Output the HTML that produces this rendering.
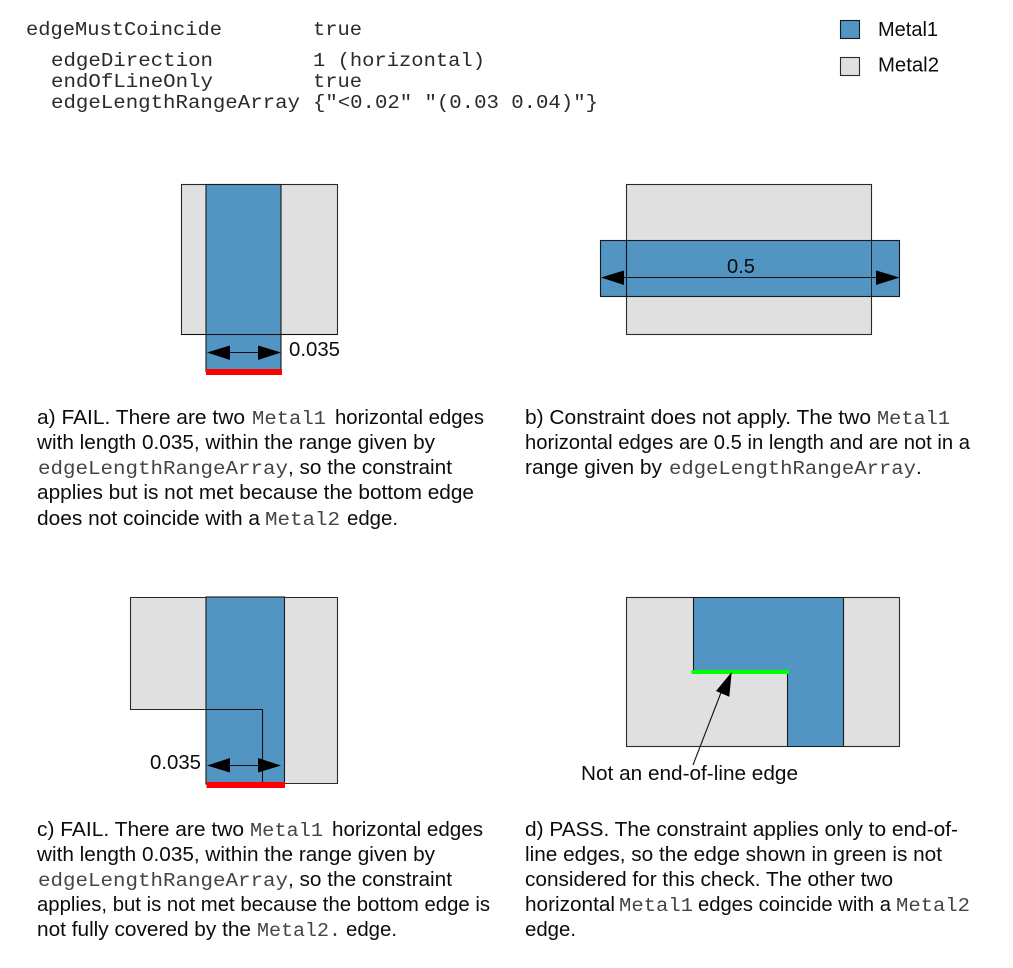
<!DOCTYPE html>
<html><head><meta charset="utf-8"><style>
html,body{margin:0;padding:0;background:#fff;width:1013px;height:968px;overflow:hidden}
svg{display:block}
.s{font-family:"Liberation Sans",sans-serif;font-size:20.7px;fill:#0c0c0c}
.m{font-family:"Liberation Mono",monospace;font-size:19.6px;fill:#444}
.c{font-family:"Liberation Mono",monospace;font-size:19.6px;fill:#2a2a2a}
.b{fill:#5294c2;stroke:#1a1a1a;stroke-width:1.1}
.g{fill:#e0e0e0;stroke:#2a2a2a;stroke-width:1.1}
.l{stroke:#111;stroke-width:1.1;fill:none}
</style></head><body>
<svg width="1013" height="968" viewBox="0 0 1013 968" xmlns="http://www.w3.org/2000/svg" shape-rendering="geometricPrecision">
<text class="c" x="26" y="35" textLength="196" lengthAdjust="spacingAndGlyphs">edgeMustCoincide</text>
<text class="c" x="313" y="35" textLength="49" lengthAdjust="spacingAndGlyphs">true</text>
<text class="c" x="51" y="66" textLength="162" lengthAdjust="spacingAndGlyphs">edgeDirection</text>
<text class="c" x="313" y="66" textLength="172" lengthAdjust="spacingAndGlyphs">1 (horizontal)</text>
<text class="c" x="51" y="87" textLength="162" lengthAdjust="spacingAndGlyphs">endOfLineOnly</text>
<text class="c" x="313" y="87" textLength="49" lengthAdjust="spacingAndGlyphs">true</text>
<text class="c" x="51" y="108" textLength="249" lengthAdjust="spacingAndGlyphs">edgeLengthRangeArray</text>
<text class="c" x="313" y="108" textLength="285" lengthAdjust="spacingAndGlyphs">{"&lt;0.02" "(0.03 0.04)"}</text>

<rect class="b" x="840.5" y="20.5" width="19" height="18"/>
<rect class="g" x="840.5" y="57.5" width="19" height="18"/>
<text class="s" x="878" y="36" textLength="60" lengthAdjust="spacingAndGlyphs">Metal1</text>
<text class="s" x="878" y="71.5" textLength="61" lengthAdjust="spacingAndGlyphs">Metal2</text>

<!-- a -->
<rect class="g" x="181.5" y="184.5" width="156" height="150"/>
<rect class="b" x="206" y="184.5" width="75" height="187"/>
<line class="l" x1="181" y1="334.5" x2="337" y2="334.5"/>
<rect x="206" y="369" width="76" height="6" fill="#f00"/>
<line class="l" x1="225" y1="352.5" x2="262" y2="352.5"/>
<polygon points="207,352.5 230,345.5 230,360" fill="#000"/>
<polygon points="281,352.5 258,345.5 258,360" fill="#000"/>
<text class="s" x="289" y="356" textLength="51" lengthAdjust="spacingAndGlyphs">0.035</text>

<!-- b -->
<rect class="g" x="626.5" y="184.5" width="245" height="150"/>
<rect class="b" x="600.5" y="240.5" width="299" height="56"/>
<line class="l" x1="626.5" y1="240" x2="626.5" y2="297"/>
<line x1="871.5" y1="240" x2="871.5" y2="297" stroke="#222" stroke-width="1"/>
<line class="l" x1="620" y1="277.5" x2="880" y2="277.5"/>
<polygon points="601,277.5 624,270.5 624,285" fill="#000"/>
<polygon points="899.5,277.5 876,270.5 876,285" fill="#000"/>
<text class="s" x="727" y="273" textLength="28" lengthAdjust="spacingAndGlyphs">0.5</text>

<!-- c -->
<path class="g" d="M130.5 597.5H337.5V783.5H262.5V709.5H130.5Z"/>
<rect class="b" x="206" y="597" width="78.5" height="187"/>
<path class="l" d="M206 709.5H262.5V783"/>
<rect x="206.5" y="782" width="78.5" height="6" fill="#f00"/>
<line class="l" x1="225" y1="765.5" x2="265" y2="765.5"/>
<polygon points="207,765.5 230,758 230,772.5" fill="#000"/>
<polygon points="281,765.5 258,758 258,772.5" fill="#000"/>
<text class="s" x="150" y="769" textLength="51" lengthAdjust="spacingAndGlyphs">0.035</text>

<!-- d -->
<rect class="g" x="626.5" y="597.5" width="273" height="149"/>
<path class="b" d="M693.5 597.5H843.5V746.5H787.5V671.5H693.5Z"/>
<rect x="691.5" y="670" width="97.5" height="4" fill="#0f0"/>
<line class="l" x1="693" y1="765" x2="722" y2="690"/>
<polygon points="731.7,672 716,691 729.3,696.7" fill="#000"/>
<text class="s" x="581" y="780" textLength="217" lengthAdjust="spacingAndGlyphs">Not an end-of-line edge</text>

<g transform="translate(0,1)">
<!-- captions a -->
<text class="s" x="37" y="423" textLength="208" lengthAdjust="spacingAndGlyphs">a) FAIL. There are two</text>
<text class="m" x="252" y="423" textLength="74" lengthAdjust="spacingAndGlyphs">Metal1</text>
<text class="s" x="335" y="423" textLength="149" lengthAdjust="spacingAndGlyphs">horizontal edges</text>
<text class="s" x="37" y="448" textLength="398" lengthAdjust="spacingAndGlyphs">with length 0.035, within the range given by</text>
<text class="m" x="38" y="473" textLength="250" lengthAdjust="spacingAndGlyphs">edgeLengthRangeArray</text>
<text class="s" x="288" y="473" textLength="164" lengthAdjust="spacingAndGlyphs">, so the constraint</text>
<text class="s" x="37" y="498" textLength="437" lengthAdjust="spacingAndGlyphs">applies but is not met because the bottom edge</text>
<text class="s" x="37" y="524" textLength="223" lengthAdjust="spacingAndGlyphs">does not coincide with a</text>
<text class="m" x="265" y="524" textLength="75" lengthAdjust="spacingAndGlyphs">Metal2</text>
<text class="s" x="347" y="524" textLength="51" lengthAdjust="spacingAndGlyphs">edge.</text>

<!-- captions b -->
<text class="s" x="525" y="423" textLength="346" lengthAdjust="spacingAndGlyphs">b) Constraint does not apply. The two</text>
<text class="m" x="877" y="423" textLength="73" lengthAdjust="spacingAndGlyphs">Metal1</text>
<text class="s" x="525" y="448" textLength="445" lengthAdjust="spacingAndGlyphs">horizontal edges are 0.5 in length and are not in a</text>
<text class="s" x="525" y="473" textLength="137" lengthAdjust="spacingAndGlyphs">range given by</text>
<text class="m" x="669" y="473" textLength="247" lengthAdjust="spacingAndGlyphs">edgeLengthRangeArray</text>
<text class="s" x="916" y="473">.</text>

<!-- captions c -->
<text class="s" x="37" y="835" textLength="207" lengthAdjust="spacingAndGlyphs">c) FAIL. There are two</text>
<text class="m" x="250" y="835" textLength="73" lengthAdjust="spacingAndGlyphs">Metal1</text>
<text class="s" x="332" y="835" textLength="151" lengthAdjust="spacingAndGlyphs">horizontal edges</text>
<text class="s" x="37" y="860" textLength="398" lengthAdjust="spacingAndGlyphs">with length 0.035, within the range given by</text>
<text class="m" x="38" y="885" textLength="250" lengthAdjust="spacingAndGlyphs">edgeLengthRangeArray</text>
<text class="s" x="288" y="885" textLength="164" lengthAdjust="spacingAndGlyphs">, so the constraint</text>
<text class="s" x="37" y="910" textLength="453" lengthAdjust="spacingAndGlyphs">applies, but is not met because the bottom edge is</text>
<text class="s" x="37" y="935" textLength="214" lengthAdjust="spacingAndGlyphs">not fully covered by the</text>
<text class="m" x="257" y="935" textLength="84" lengthAdjust="spacingAndGlyphs">Metal2.</text>
<text class="s" x="346" y="935" textLength="51" lengthAdjust="spacingAndGlyphs">edge.</text>

<!-- captions d -->
<text class="s" x="525" y="835" textLength="433" lengthAdjust="spacingAndGlyphs">d) PASS. The constraint applies only to end-of-</text>
<text class="s" x="525" y="860" textLength="417" lengthAdjust="spacingAndGlyphs">line edges, so the edge shown in green is not</text>
<text class="s" x="525" y="885" textLength="368" lengthAdjust="spacingAndGlyphs">considered for this check. The other two</text>
<text class="s" x="525" y="910" textLength="90" lengthAdjust="spacingAndGlyphs">horizontal</text>
<text class="m" x="619" y="910" textLength="74" lengthAdjust="spacingAndGlyphs">Metal1</text>
<text class="s" x="698" y="910" textLength="193" lengthAdjust="spacingAndGlyphs">edges coincide with a</text>
<text class="m" x="896" y="910" textLength="74" lengthAdjust="spacingAndGlyphs">Metal2</text>
<text class="s" x="525" y="935" textLength="51" lengthAdjust="spacingAndGlyphs">edge.</text>
</g>
</svg>
</body></html>
